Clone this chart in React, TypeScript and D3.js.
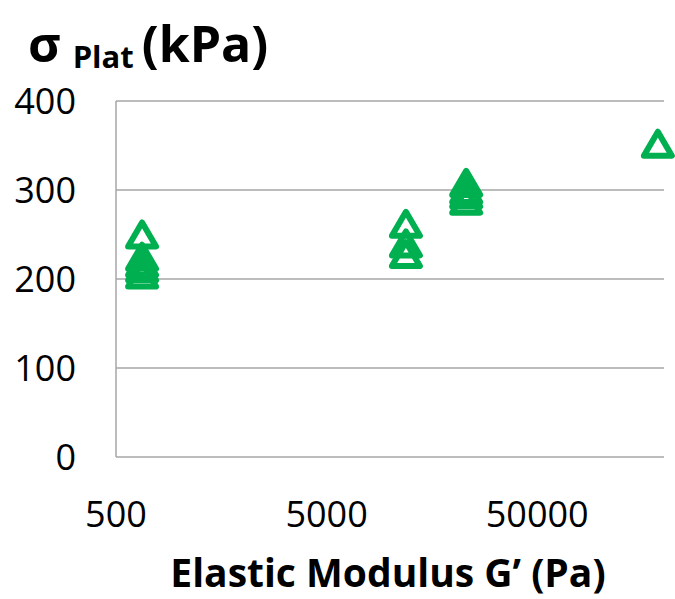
import React from "react";
import * as d3 from "d3";

const modulusPa = [665, 665, 665, 665, 665, 11900, 11900, 11900, 23000, 23000, 23000, 23000, 187000];
const plateauKPa = [250, 225, 218, 212, 205, 262, 240, 228, 308, 300, 295, 288, 352];
const xTicks = [500, 5000, 50000];
const yTicks = [0, 100, 200, 300, 400];

const W = 675;
const H = 599;
const left = 116;
const right = 664;
const top = 101;
const bottom = 457;
const green = "#00B050";
const grid = "#A6A6A6";
const font = "'Open Sans', sans-serif";

export default function App() {
  const x = d3.scaleLog().domain([500, 200000]).range([left, right]);
  const y = d3.scaleLinear().domain([0, 400]).range([bottom, top]);
  const tw = 28;
  const th = 24;
  const tri = `M0,${-th / 2}L${tw / 2},${th / 2}L${-tw / 2},${th / 2}Z`;
  return (
    <svg width={W} height={H} style={{ position: "absolute", left: 0, top: 0, background: "#fff" }}>
      {yTicks.map((t) => (
        <line key={"g" + t} x1={left} x2={right} y1={y(t)} y2={y(t)} stroke={grid} strokeWidth={1.5} />
      ))}
      <line x1={left} x2={left} y1={top} y2={bottom} stroke={grid} strokeWidth={1.5} />
      {yTicks.map((t) => (
        <text key={"yl" + t} x={76} y={y(t)} dy="0.36em" textAnchor="end" fontFamily={font} fontSize={36} fill="#000">
          {t}
        </text>
      ))}
      {xTicks.map((t) => (
        <text key={"xl" + t} x={x(t)} y={527} textAnchor="middle" fontFamily={font} fontSize={36} fill="#000">
          {t}
        </text>
      ))}
      {modulusPa.map((g, i) => (
        <path
          key={"p" + i}
          d={tri}
          transform={`translate(${x(g)},${y(plateauKPa[i])})`}
          fill="none"
          stroke={green}
          strokeWidth={6}
          strokeLinejoin="round"
        />
      ))}
      <text x={28} y={62} fontFamily={font} fontWeight="bold" fill="#000">
        <tspan fontSize={50}>σ</tspan>
        <tspan fontSize={31} dx={12} dy={6}>Plat</tspan>
        <tspan fontSize={50} dx={8} dy={-6}>(kPa)</tspan>
      </text>
      <text x={388} y={587} textAnchor="middle" fontFamily={font} fontWeight="bold" fontSize={39} fill="#000">
        Elastic Modulus G’ (Pa)
      </text>
    </svg>
  );
}
